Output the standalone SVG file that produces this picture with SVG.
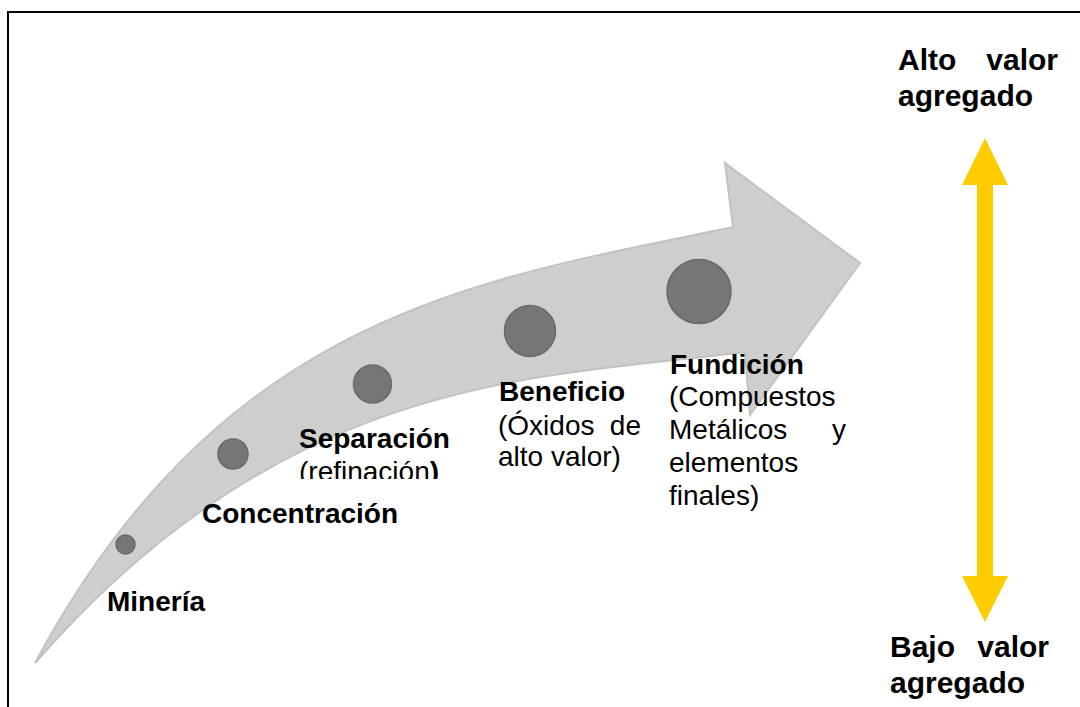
<svg xmlns="http://www.w3.org/2000/svg" width="1080" height="707" viewBox="0 0 1080 707">
<style>
.b{font-family:"Liberation Sans",Arial,sans-serif;font-weight:bold;font-size:28px;fill:#000}
.r{font-family:"Liberation Sans",Arial,sans-serif;font-size:28px;fill:#000}
.big{font-family:"Liberation Sans",Arial,sans-serif;font-weight:bold;font-size:30px;fill:#000}
.dot{fill:#767676;stroke:#6a6a6a;stroke-width:1.5}
</style>
<defs>
<clipPath id="clipRef"><rect x="290" y="450" width="200" height="29"/></clipPath>
</defs>
<rect width="1080" height="707" fill="#fff"/>
<path id="frame" d="M8 707 V12 H1080" fill="none" stroke="#000" stroke-width="2"/>
<g id="connectors">
<path id="flow-arrow" d="M35 663 C225 310 483 279.5 733 227 L725 163 L860 263 L750 415 L745 352 C545 378 290 370 35 663 Z" fill="#cecece" stroke="#c2c2c2" stroke-width="2" stroke-linejoin="miter"/>
<path id="value-axis" d="M985 138 L1008 185 L993 185 L993 576 L1008 576 L985 622 L962 576 L977 576 L977 185 L962 185 Z" fill="#ffcc00"/>
</g>
<g id="stage-mineria">
<circle class="dot" cx="125.5" cy="544.5" r="9.5"/>
<text class="b" x="107" y="611">Minería</text>
</g>
<g id="stage-concentracion">
<circle class="dot" cx="233" cy="454" r="15"/>
<text class="b" x="202" y="523">Concentración</text>
</g>
<g id="stage-separacion">
<circle class="dot" cx="372.5" cy="384" r="19"/>
<text class="b" x="299" y="448">Separación</text>
<text class="r" x="299" y="481" clip-path="url(#clipRef)">(refinación<tspan font-weight="bold">)</tspan></text>
</g>
<g id="stage-beneficio">
<circle class="dot" cx="530" cy="331" r="25.5"/>
<text class="b" x="499" y="401">Beneficio</text>
<text class="r" x="498" y="435">(Óxidos</text>
<text class="r" x="641" y="435" text-anchor="end">de</text>
<text class="r" x="498" y="466">alto valor)</text>
</g>
<g id="stage-fundicion">
<circle class="dot" cx="699" cy="291.5" r="32"/>
<text class="b" x="670" y="374">Fundición</text>
<text class="r" x="669" y="406">(Compuestos</text>
<text class="r" x="669" y="439">Metálicos</text>
<text class="r" x="846" y="439" text-anchor="end">y</text>
<text class="r" x="669" y="472">elementos</text>
<text class="r" x="669" y="505">finales)</text>
</g>
<g id="label-alto">
<text class="big" x="898" y="70">Alto</text>
<text class="big" x="1058" y="70" text-anchor="end">valor</text>
<text class="big" x="898" y="106">agregado</text>
</g>
<g id="label-bajo">
<text class="big" x="890" y="657">Bajo</text>
<text class="big" x="1049" y="657" text-anchor="end">valor</text>
<text class="big" x="890" y="693">agregado</text>
</g>
</svg>
